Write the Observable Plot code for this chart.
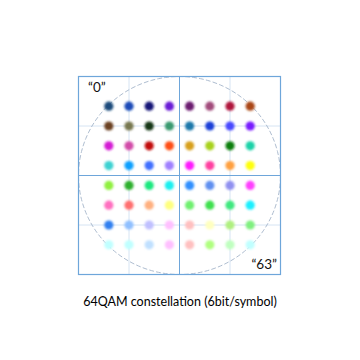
<!DOCTYPE html>
<html>
<head>
<meta charset="utf-8">
<script src="https://cdn.jsdelivr.net/npm/d3@7"></script>
<script src="https://cdn.jsdelivr.net/npm/@observablehq/plot@0.6"></script>
<style>
  html, body { margin: 0; padding: 0; background: #fff; }
  #chart { width: 360px; }
  #caption { font-family: Lato, "Open Sans", sans-serif; font-size: 12.5px; color: #000; text-align: center; width: 360px; margin-top: 9px; }
</style>
</head>
<body>
<div id="chart"></div>
<div id="caption">64QAM constellation (6bit/symbol)</div>
<script>
// In-phase levels (columns, left to right) and quadrature levels (rows, top to bottom)
const iLevels = [-7, -5, -3, -1, 1, 3, 5, 7];
const qLevels = [7, 5, 3, 1, -1, -3, -5, -7];
// Symbol colours, row by row (symbol 0 top-left ... symbol 63 bottom-right)
const colorRows = [
  ["#1d4c7c", "#1c4cb8", "#141478", "#6a1ed6", "#6c1a70", "#a24c7c", "#b0143c", "#aa4618"],
  ["#6c4220", "#787850", "#183818", "#3a9a70", "#1a78aa", "#1a40d8", "#4848ff", "#781aff"],
  ["#d41cd4", "#d24ca8", "#c21010", "#ff5012", "#d8a01e", "#a8d21e", "#108010", "#1ed2a8"],
  ["#3ed2d2", "#10a0ff", "#4070ff", "#a080ff", "#ff1eff", "#ff40a0", "#ffa040", "#ffff10"],
  ["#90f040", "#2eb02e", "#1ee880", "#1ef0f0", "#3090ff", "#6090f0", "#9090f0", "#ff40ff"],
  ["#ff70c0", "#ff7070", "#ffb080", "#ffff80", "#70f070", "#40e050", "#40e880", "#1ef0ff"],
  ["#3080f0", "#90c0ff", "#c0c0ff", "#ffc0ff", "#ffc0c0", "#ffffc0", "#b0f080", "#80f080"],
  ["#c0ffff", "#c0ffff", "#c0e0ff", "#ffc0ff", "#ffc0c0", "#b0ff80", "#c0ffc0", "#c0ffff"]
];
const symbolLabels = ["\u201C0\u201D", "\u201C63\u201D"];
const gridLevels = [-5, 5];
const axisRange = 10; // frame half-width and circle radius in level units

const points = [];
qLevels.forEach((q, r) => iLevels.forEach((i, c) => {
  points.push({i, q, color: colorRows[r][c], index: r * 8 + c});
}));
const labelled = [
  {...points[0], label: symbolLabels[0]},
  {...points[63], label: symbolLabels[1]}
];
const circle = d3.range(0, 361, 2).map(a => ({
  i: axisRange * Math.cos(a * Math.PI / 180),
  q: axisRange * Math.sin(a * Math.PI / 180)
}));

const svg = Plot.plot({
  width: 360,
  height: 285,
  marginLeft: 78,
  marginRight: 80,
  marginTop: 76,
  marginBottom: 11,
  x: {domain: [-axisRange, axisRange], axis: null},
  y: {domain: [-axisRange, axisRange], axis: null},
  color: {type: "identity"},
  style: {fontFamily: "Lato, 'Open Sans', sans-serif", background: "#fff"},
  marks: [
    Plot.ruleX(gridLevels, {stroke: "#d6e4f3", strokeWidth: 1}),
    Plot.ruleY(gridLevels, {stroke: "#d6e4f3", strokeWidth: 1}),
    Plot.line(circle, {x: "i", y: "q", stroke: "#aebdd0", strokeWidth: 1, strokeDasharray: "4,3"}),
    Plot.ruleX([0], {stroke: "#6ea6da", strokeWidth: 1}),
    Plot.ruleY([0], {stroke: "#6ea6da", strokeWidth: 1}),
    Plot.frame({stroke: "#6ea6da", strokeWidth: 1.2}),
    Plot.dot(points, {x: "i", y: "q", fill: "color", r: 4.6, stroke: null}),
    Plot.text(labelled, {x: "i", y: "q", text: "label", fontSize: 13.5, fill: "#111"})
  ]
});

// Shift the two symbol labels to sit outside their corner symbols
const texts = svg.querySelectorAll('g[aria-label="text"] text');
if (texts.length === 2) {
  texts[0].setAttribute("transform", (texts[0].getAttribute("transform") || "") + " translate(-12,-19)");
  texts[1].setAttribute("transform", (texts[1].getAttribute("transform") || "") + " translate(14,20)");
}

// Soft blur for the constellation symbols
const ns = "http://www.w3.org/2000/svg";
const defs = document.createElementNS(ns, "defs");
const filter = document.createElementNS(ns, "filter");
filter.setAttribute("id", "soft");
filter.setAttribute("x", "-100%"); filter.setAttribute("y", "-100%");
filter.setAttribute("width", "300%"); filter.setAttribute("height", "300%");
const blur = document.createElementNS(ns, "feGaussianBlur");
blur.setAttribute("stdDeviation", "1.2");
filter.appendChild(blur);
defs.appendChild(filter);
svg.insertBefore(defs, svg.firstChild);
const dotGroup = svg.querySelector('g[aria-label="dot"]');
if (dotGroup) dotGroup.querySelectorAll("circle").forEach(c => c.setAttribute("filter", "url(#soft)"));

document.getElementById("chart").appendChild(svg);
</script>
</body>
</html>
